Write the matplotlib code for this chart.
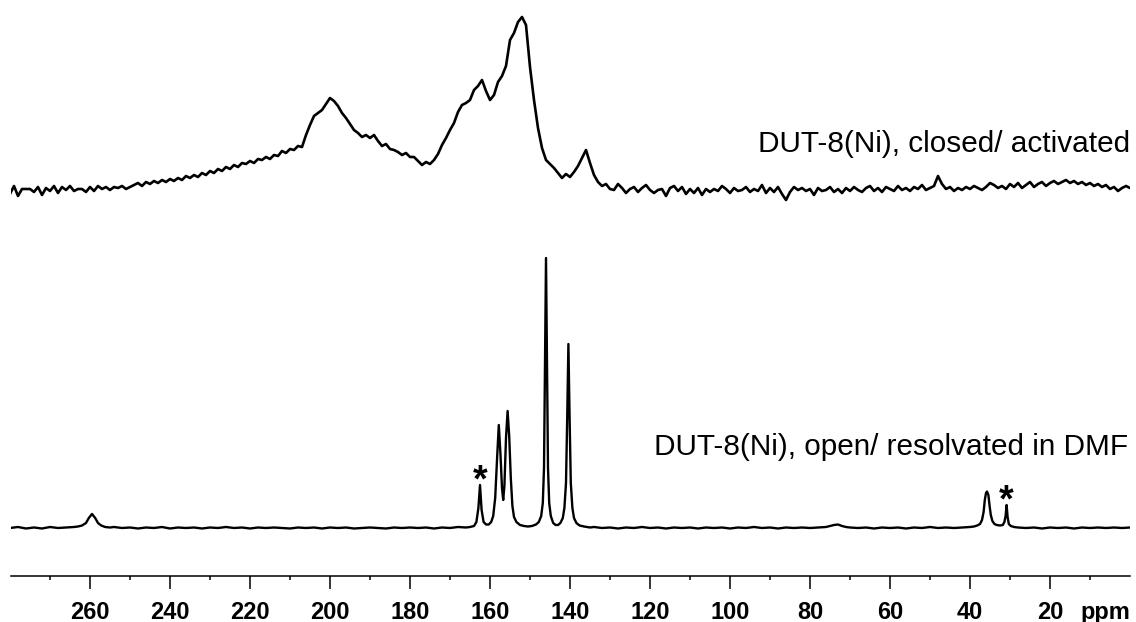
import matplotlib
matplotlib.use("Agg")
import matplotlib.pyplot as plt
import matplotlib.transforms as mtransforms
import numpy as np

plt.rcParams['font.family'] = ['Liberation Sans', 'DejaVu Sans']

# 13C MAS spectrum of the activated (closed) sample, 1 ppm steps from 280 to 0 ppm
top_ppm = np.arange(280, -1, -1)
top_int = [
    -4, 4, -6, 1, 1, 1, -2, 3, -5, 2,          # 280-271
    -1, 4, -3, 3, 0, 4, -1, 1, 1, -2,          # 270-261
    3, -1, 4, 1, 3, 0, 3, 2, 4, 1,             # 260-251
    3, 5, 7, 4, 8, 6, 9, 7, 10, 8,             # 250-241
    11, 9, 12, 10, 14, 12, 15, 13, 17, 15,     # 240-231
    19, 17, 21, 19, 23, 21, 25, 23, 27, 26,    # 230-221
    29, 27, 31, 30, 33, 31, 35, 34, 39, 37,    # 220-211
    41, 40, 44, 43, 55, 65, 74, 77, 80, 86,    # 210-201
    92, 89, 84, 77, 72, 66, 60, 57, 53, 55,    # 200-191
    52, 55, 49, 44, 46, 41, 40, 38, 35, 37,    # 190-181
    33, 33, 29, 25, 28, 26, 30, 36, 45, 52,    # 180-171
    60, 67, 78, 85, 87, 90, 100, 104, 110, 99,  # 170-161
    90, 95, 108, 114, 124, 150, 157, 168, 173, 165,  # 160-151
    123, 90, 62, 42, 30, 26, 22, 17, 12, 16,   # 150-141
    13, 18, 24, 32, 40, 27, 15, 8, 4, 6,       # 140-131
    1, 0, 6, 2, -3, 1, 3, -2, 2, 5,            # 130-121
    0, -3, 0, 1, -6, 2, 4, -1, 3, -4,          # 120-111
    1, -3, 2, -5, 1, -2, 1, -1, 4, 1,          # 110-101
    -3, 2, -1, 0, 3, -2, 1, -1, 5, -3,         # 100-91
    2, -2, 3, -4, -10, -2, 3, 0, 2, -1,        # 90-81
    1, -5, 2, -1, 0, 3, -2, 1, -3, 2,          # 80-71
    -1, 3, 0, -2, 2, 4, -1, 2, -2, 3,          # 70-61
    1, -1, 4, 0, 2, -1, 3, 1, 5, 0,            # 60-51
    2, 4, 14, 6, 1, 3, -1, 2, 0, 3,            # 50-41
    1, 4, 2, 0, 3, 7, 5, 2, 4, 1,              # 40-31
    6, 3, 7, 2, 5, 8, 3, 6, 8, 4,              # 30-21
    7, 9, 6, 8, 10, 7, 9, 6, 8, 5,             # 20-11
    7, 4, 6, 3, 5, 1, 3, -1, 2, 4,             # 10-1
    2,                                         # 0
]

# spectrum of the DMF-solvated (open) sample
bottom_ppm = [
    280, 278, 276, 274, 272, 270, 268, 266, 264, 263, 262, 261, 260.3, 259.5, 258.7,
    258, 257.2, 256.2, 255, 254, 252, 250, 248, 246, 244, 242, 240, 238, 236, 234,
    232, 230, 228, 226, 224, 222, 220, 218, 216, 214, 212, 210, 208, 206, 204, 202,
    200, 198, 196, 194, 192, 190, 188, 186, 184, 182, 180, 178, 176, 174, 172, 170,
    168, 166, 165, 164, 163.4, 162.9, 162.5, 162.1, 161.6, 161, 160.3, 159.7, 159.2,
    158.7, 158.2, 157.8, 157.4, 157.0, 156.7, 156.4, 156.0, 155.6, 155.2, 154.8,
    154.4, 154.0, 153.4, 152.5, 151.5, 150.5, 149.5, 148.5, 147.8, 147.2, 146.8,
    146.5, 146.3, 146.0, 145.7, 145.5, 145.2, 144.8, 144.2, 143.6, 143.0, 142.4,
    141.8, 141.4, 141.0, 140.7, 140.4, 140.1, 139.8, 139.4, 139.0, 138.4, 137.6,
    136.5, 135, 134, 132, 130, 128, 126, 124, 122, 120, 118, 116, 114, 112, 110,
    108, 106, 104, 102, 100, 98, 96, 94, 92, 90, 88, 86, 84, 82, 80, 78, 76, 75,
    74, 73, 72, 71, 70, 68, 66, 64, 62, 60, 58, 56, 54, 52, 50, 48, 46, 44, 42,
    40, 39, 38.2, 37.5, 37, 36.6, 36.3, 36.0, 35.75, 35.4, 35.1, 34.8, 34.4, 33.9,
    33.3, 32.5, 31.8, 31.4, 31.1, 30.85, 30.6, 30.3, 29.8, 29, 28, 26, 24, 22, 20,
    18, 16, 14, 12, 10, 8, 6, 4, 2, 0,
]
bottom_int = [
    0, 1, -0.5, 0.5, -0.5, 1, 0, 0.5, 1, 1.5, 2.5, 5, 10, 14, 10,
    5, 2.5, 1, 0.5, 1, 0, 0.5, -0.5, 0.5, 0, 1, -0.5, 0.5, 0, 0.5,
    -0.5, 0.5, 0, 1, 0, 0.5, -0.5, 0.5, 0, 0.5, 0, -0.5, 0.5, 0, 0.5, -0.5,
    0.5, 0, 0.5, -0.5, 0, 0.5, 0, -0.5, 0.5, 0, 0.5, 0, 0.5, -0.5, 0.5, 0,
    1, 0.5, 1, 2, 6, 20, 43, 18, 6, 3.5, 3.5, 6, 12,
    30, 72, 103, 75, 40, 28, 42, 90, 117, 92, 50,
    22, 11, 6, 3, 2, 1.5, 2, 3.5, 6, 12, 25,
    60, 140, 270, 140, 60, 25, 12, 5, 3, 3, 5,
    10, 20, 45, 110, 184, 110, 45, 20, 10, 5, 2.5,
    1.5, 0.5, 1, 0, 0.5, -0.5, 0.5, 0, 1, 0, 0.5, -0.5, 0.5, 0, 0.5,
    -0.5, 0.5, 0, 0.5, -0.5, 0.5, 0, 1, 0, 0.5, -0.5, 0.5, 0, 0.5, 0, 0.5, 1, 2,
    3, 3.5, 2, 1, 0.5, 0, 0.5, -0.5, 0.5, 0, 0.5, -0.5, 0.5, 0, 1, 0, 0.5, 0, 0.5,
    1, 1.5, 2.5, 4, 8, 16, 28, 35, 36.5, 33, 22, 13, 7, 4,
    3, 2.5, 3, 6, 12, 23, 11, 4, 2, 1, 0.5, 0, 0.5, -0.5, 0.5,
    0, 0.5, -0.5, 0.5, 0, 0.5, 0, 0.5, 0, 0.5,
]

# impurity peaks marked with an asterisk
star_ppm = [162.5, 30.85]

top_label = "DUT-8(Ni), closed/ activated"
bottom_label = "DUT-8(Ni), open/ resolvated in DMF"
major_ticks = [260, 240, 220, 200, 180, 160, 140, 120, 100, 80, 60, 40, 20]
minor_ticks = [270, 250, 230, 210, 190, 170, 150, 130, 110, 90, 70, 50, 30, 10]

top_offset = 385.7
bottom_offset = 47.7
tick_len, tick_pad = 9, 9

fig = plt.figure(figsize=(11.36, 6.22), dpi=100)
ax = fig.add_axes([0.00968, 0.07444, 0.98504, 0.92556])

ax.plot(top_ppm, np.array(top_int) + top_offset, color='black', lw=1.9)
ax.plot(bottom_ppm, np.array(bottom_int) + bottom_offset, color='black', lw=1.7)

for p in star_ppm:
    h = bottom_int[bottom_ppm.index(p)]
    ax.text(p, bottom_offset + h - 6, '*', ha='center', va='baseline',
            fontsize=27, fontweight='bold')

ax.text(0, 424, top_label, ha='right', va='baseline', fontsize=21.4)
ax.text(0.5, 120.7, bottom_label, ha='right', va='baseline', fontsize=21.4)

ax.set_xlim(279.75, 0)
ax.set_ylim(0, 575.7)

for side in ['top', 'left', 'right']:
    ax.spines[side].set_visible(False)
ax.spines['bottom'].set_linewidth(1.1)
ax.set_yticks([])
ax.set_xticks(major_ticks)
ax.set_xticks(minor_ticks, minor=True)
ax.tick_params(axis='x', which='major', direction='out', length=tick_len, width=1.1,
               pad=tick_pad, labelsize=17)
ax.tick_params(axis='x', which='minor', direction='out', length=3, width=1.1)
for lbl in ax.get_xticklabels():
    lbl.set_fontweight('bold')

# unit label sits on the same line as the tick labels
trans = mtransforms.blended_transform_factory(ax.transData, ax.transAxes)
trans = mtransforms.offset_copy(trans, fig=fig, y=-(tick_len + tick_pad), units='points')
ax.text(0, 0, 'ppm', transform=trans, ha='right', va='top',
        fontsize=17, fontweight='bold')

fig.savefig('out.png', dpi=100)
